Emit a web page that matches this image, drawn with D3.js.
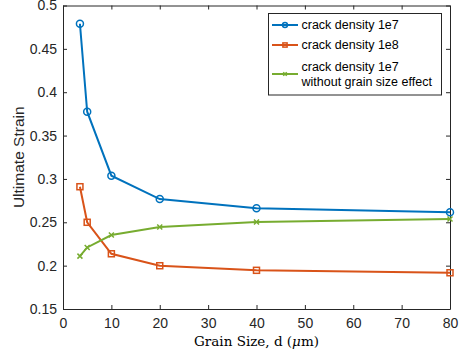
<!DOCTYPE html>
<html>
<head>
<meta charset="utf-8">
<script src="https://cdn.jsdelivr.net/npm/d3@7"></script>
<style>
  body { margin: 0; background: #fff; }
  svg { display: block; }
</style>
</head>
<body>
<svg class="chart" width="460" height="358"></svg>
<script>
// grain size values (um)
var grainSize = [3.5, 5, 10, 20, 40, 80]
var density1e7 = [0.479, 0.3775, 0.3037, 0.2768, 0.2661, 0.2615]
var density1e8 = [0.291, 0.250, 0.2137, 0.1999, 0.1946, 0.1918]
var noGrainEffect = [0.211, 0.221, 0.2353, 0.2445, 0.2503, 0.2538]

var xTicks = [0, 10, 20, 30, 40, 50, 60, 70, 80]
var yTicks = [0.15, 0.2, 0.25, 0.3, 0.35, 0.4, 0.45, 0.5]

var seriesNames = ["crack density 1e7", "crack density 1e8", "crack density 1e7|without grain size effect"]
var seriesColors = ["#0072BD", "#D95319", "#77AC30"]
var seriesMarkers = ["circle", "square", "cross"]

// plot box (window.top is reserved, so use other names)
var plotLeft = 63, plotRight = 450, plotTop = 5.5, plotBottom = 309

var x = d3.scaleLinear().domain([0, 80]).range([plotLeft, plotRight])
var y = d3.scaleLinear().domain([0.15, 0.5]).range([plotBottom, plotTop])

var chart = d3.select(".chart")
var axisColor = "#262626"

// axes (box on, ticks inward)
chart.append("g")
    .attr("transform", `translate(0,${plotBottom})`)
    .call(d3.axisBottom(x).tickValues(xTicks).tickSizeInner(-4).tickSizeOuter(0).tickPadding(9))
chart.append("g")
    .attr("transform", `translate(0,${plotTop})`)
    .call(d3.axisTop(x).tickValues(xTicks).tickSizeInner(-4).tickSizeOuter(0).tickFormat(""))
chart.append("g")
    .attr("transform", `translate(${plotLeft},0)`)
    .call(d3.axisLeft(y).tickValues(yTicks).tickSizeInner(-4).tickSizeOuter(0).tickPadding(6).tickFormat(d3.format("")))
chart.append("g")
    .attr("transform", `translate(${plotRight},0)`)
    .call(d3.axisRight(y).tickValues(yTicks).tickSizeInner(-4).tickSizeOuter(0).tickFormat(""))

chart.selectAll(".domain").attr("stroke", axisColor).attr("stroke-width", 1)
chart.selectAll(".tick line").attr("stroke", axisColor)
chart.selectAll(".tick text")
    .attr("fill", axisColor)
    .style("font-family", "Liberation Sans, Arial, sans-serif")
    .style("font-size", "14px")

// axis titles
chart.append("text")
    .attr("transform", `translate(23.5,${(plotTop + plotBottom) / 2}) rotate(-90)`)
    .attr("text-anchor", "middle")
    .attr("fill", axisColor)
    .style("font-family", "Liberation Sans, Arial, sans-serif")
    .style("font-size", "15.5px")
    .text("Ultimate Strain")

var xl = chart.append("text")
    .attr("x", (plotLeft + plotRight) / 2)
    .attr("y", 346)
    .attr("text-anchor", "middle")
    .attr("fill", "#000")
    .style("font-family", "DejaVu Serif, Liberation Serif, serif")
    .style("font-size", "13.5px")
xl.append("tspan").text("Grain Size, d (")
xl.append("tspan").style("font-style", "italic").text("\u03bc")
xl.append("tspan").text("m)")

var allSeries = [density1e7, density1e8, noGrainEffect]

var line = d3.line()
    .x((d, i) => x(grainSize[i]))
    .y(d => y(d))

function drawMarker(g, type, color, cx, cy, s) {
    if (type == "circle") {
        g.append("circle").attr("cx", cx).attr("cy", cy).attr("r", s)
            .attr("fill", "none").attr("stroke", color).attr("stroke-width", 1.5)
    } else if (type == "square") {
        g.append("rect").attr("x", cx - s).attr("y", cy - s).attr("width", 2 * s).attr("height", 2 * s)
            .attr("fill", "none").attr("stroke", color).attr("stroke-width", 1.5)
    } else {
        g.append("path")
            .attr("d", `M${cx - s},${cy - s}L${cx + s},${cy + s}M${cx - s},${cy + s}L${cx + s},${cy - s}`)
            .attr("stroke", color).attr("stroke-width", 1.5)
    }
}

var markerSize = [3.5, 3, 2.5]

allSeries.forEach((vals, k) => {
    var g = chart.append("g")
    g.append("path")
        .datum(vals)
        .attr("fill", "none")
        .attr("stroke", seriesColors[k])
        .attr("stroke-width", 2)
        .attr("d", line)
    vals.forEach((v, i) => drawMarker(g, seriesMarkers[k], seriesColors[k], x(grainSize[i]), y(v), markerSize[k]))
})

// legend
var legend = chart.append("g")
legend.append("rect")
    .attr("x", 268.5).attr("y", 13.5).attr("width", 173).attr("height", 81.5)
    .attr("fill", "#fff").attr("stroke", axisColor).attr("stroke-width", 1)

var legendY = [25, 45, 66.5]
seriesNames.forEach((name, k) => {
    var ly = k == 2 ? 74 : legendY[k]
    legend.append("line")
        .attr("x1", 272).attr("x2", 298).attr("y1", ly).attr("y2", ly)
        .attr("stroke", seriesColors[k]).attr("stroke-width", 2)
    drawMarker(legend, seriesMarkers[k], seriesColors[k], 285, ly, markerSize[k] * 0.7)
    var lines = name.split("|")
    lines.forEach((t, j) => {
        legend.append("text")
            .attr("x", 301.5)
            .attr("y", legendY[k] + j * 15.5)
            .attr("dy", "0.35em")
            .attr("fill", "#000")
            .style("font-family", "Liberation Sans, Arial, sans-serif")
            .style("font-size", "12.5px")
            .text(t)
    })
})
</script>
</body>
</html>
